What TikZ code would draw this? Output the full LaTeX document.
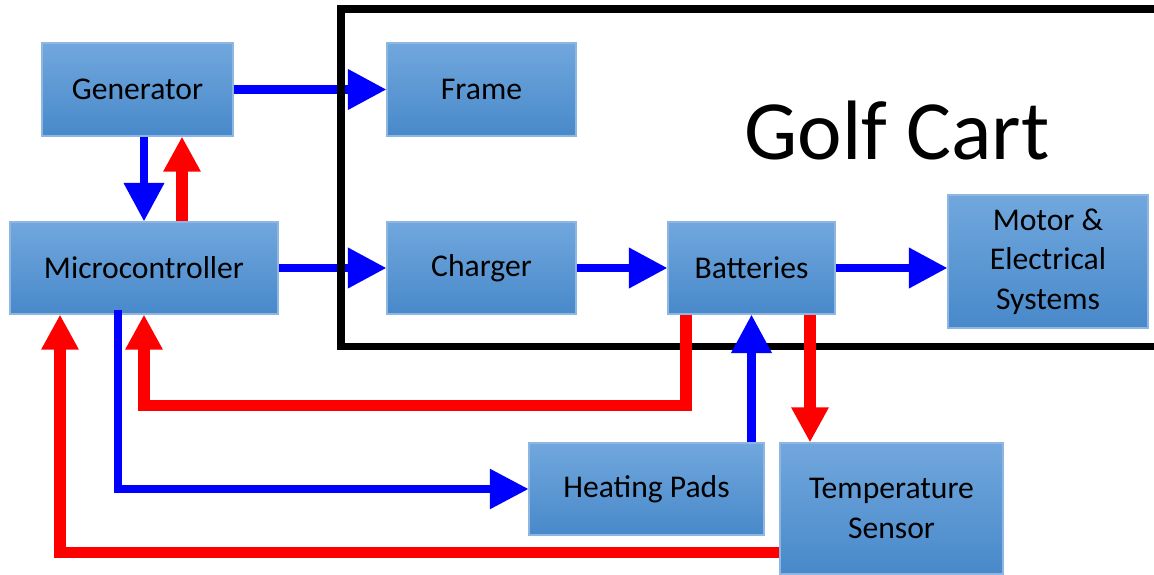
\documentclass[tikz,border=0pt]{standalone}
\usepackage{fontspec}
\setmainfont{Carlito}
\usetikzlibrary{arrows.meta, calc, positioning}
\definecolor{boxtop}{HTML}{71A7DD}
\definecolor{boxbottom}{HTML}{4889CA}
\definecolor{boxline}{HTML}{8DB6E2}
\definecolor{pureblue}{HTML}{0000FF}
\definecolor{purered}{HTML}{FF0000}
\tikzset{
	blocknode/.style={
			rectangle,
			draw=boxline,
			line width=0.6pt,
			top color=boxtop,
			bottom color=boxbottom,
			align=center,
			inner sep=0pt,
			font=\fontsize{18}{22.5}\selectfont
		},
	bluearrow/.style={
			draw=pureblue,
			line width=4.8pt,
			-{Triangle[width=22pt,length=22pt]}
		},
	thinbluearrow/.style={
			bluearrow,
			line width=4pt
		},
	redarrow/.style={
			draw=purered,
			line width=6.5pt,
			-{Triangle[width=20pt,length=20pt]}
		},
	cartframe/.style={
			draw=black,
			line width=4.5pt
		}
}
\begin{document}
\begin{tikzpicture}
\useasboundingbox (0,0) rectangle (23.08,11.48);

\node[blocknode, minimum width=3.82cm, minimum height=1.86cm] (tGen) at (2.75,9.69) {Generator};
\node[blocknode, minimum width=3.78cm, minimum height=1.86cm] (tFrame) at (9.63,9.69) {Frame};
\node[blocknode, minimum width=5.36cm, minimum height=1.84cm] (tMicro) at (2.88,6.12) {Microcontroller};
\node[blocknode, minimum width=3.78cm, minimum height=1.84cm] (tCharger) at (9.63,6.12) {Charger};
\node[blocknode, minimum width=3.34cm, minimum height=1.84cm] (tBatt) at (15.03,6.12) {Batteries};
\node[blocknode, minimum width=4.00cm, minimum height=2.66cm] (tMotor) at (20.96,6.25) {Motor \&\\Electrical\\Systems};
\node[blocknode, minimum width=4.70cm, minimum height=1.84cm] (tHeat) at (12.93,1.70) {Heating Pads};
\node[blocknode, minimum width=4.46cm, minimum height=2.62cm] (tTemp) at (17.83,1.31) {Temperature\\Sensor};
\node[anchor=base, font=\fontsize{48}{58}\selectfont] (tTitle) at (17.94,8.28) {Golf Cart};

\coordinate (mUp) at ($(tMicro.north)+(0.76,0)$);
\coordinate (bLeft) at ($(tBatt.south)+(-1.31,0)$);
\coordinate (bDown) at ($(tBatt.south)+(1.17,0)$);
\coordinate (mHeat) at ($(tMicro.south)+(-0.52,0.1)$);
\coordinate (mTemp) at ($(tMicro.south)+(-1.68,0)$);
\coordinate (tOut) at ($(tTemp.south west)+(0,0.44)$);

\draw[bluearrow] (tGen.east) -- (tFrame.west);
\draw[bluearrow] (tMicro.east) -- (tCharger.west);

\draw[cartframe] (6.82,4.55) rectangle (23.5,11.30);

\draw[bluearrow] (tMicro.north |- tGen.south) -- (tMicro.north);
\draw[redarrow] (mUp) -- (mUp |- tGen.south);
\draw[bluearrow] (tCharger.east) -- (tBatt.west);
\draw[bluearrow] (tBatt.east) -- (tBatt.east -| tMotor.west);
\draw[redarrow] (bLeft) |- ($(tMicro.south)+(0,-1.82)$) -- (tMicro.south);
\draw[bluearrow] (tBatt.south |- tHeat.north) -- (tBatt.south);
\draw[redarrow] (bDown) -- (bDown |- tTemp.north);
\draw[thinbluearrow] (mHeat) |- (tHeat.west);
\draw[redarrow] (tOut) -| (mTemp);

\end{tikzpicture}
\end{document}
